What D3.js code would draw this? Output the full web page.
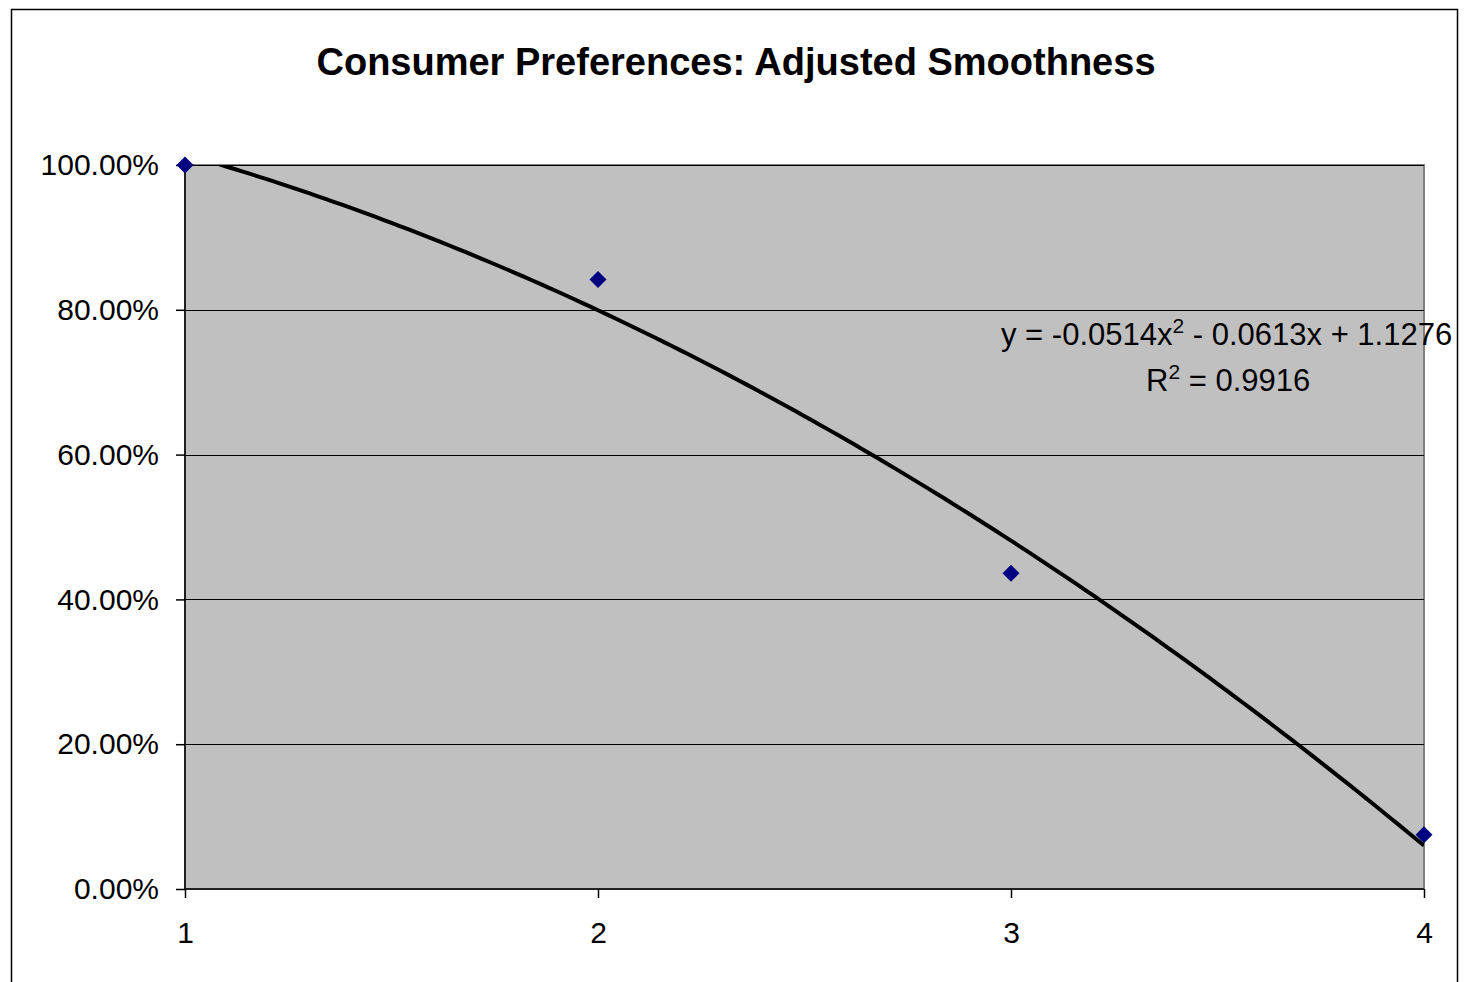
<!DOCTYPE html>
<html>
<head>
<meta charset="utf-8">
<script src="https://cdn.jsdelivr.net/npm/d3@7"></script>
<style>
  body { margin: 0; background: #fff; }
  text { font-family: "Liberation Sans", Arial, sans-serif; }
</style>
</head>
<body>
<svg id="chart" width="1477" height="982"></svg>
<script>
// data
var xs = [1, 2, 3, 4];
var shares = [1.0, 0.842, 0.436, 0.075];
var yTicks = [0, 0.2, 0.4, 0.6, 0.8, 1.0];
var xTicks = [1, 2, 3, 4];
// trendline coefficients as printed on the chart (a x^2 + b x + c)
var trendCoef = [-0.0514, -0.0613, 1.1276];
var r2 = "0.9916";

var margin = { top: 165, right: 53, bottom: 93, left: 185 },
  width = 1477 - margin.left - margin.right,
  height = 982 - margin.top - margin.bottom;

var svg = d3.select("#chart");

// outer chart border
svg.append("rect")
  .attr("x", 11.5).attr("y", 9.5)
  .attr("width", 1446).attr("height", 1000)
  .attr("fill", "none").attr("stroke", "#000").attr("stroke-width", 1.5);

svg.append("text")
  .attr("x", 736).attr("y", 75)
  .attr("text-anchor", "middle")
  .style("font-size", "38px").style("font-weight", "bold")
  .text("Consumer Preferences: Adjusted Smoothness");

var x = d3.scaleLinear().domain([1, 4]).range([0, width]);
var y = d3.scaleLinear().domain([0, 1]).range([height, 0]);

var graph = svg.append("g")
  .attr("transform", "translate(" + margin.left + "," + margin.top + ")");

graph.append("rect")
  .attr("width", width).attr("height", height)
  .attr("fill", "#c0c0c0")
  .attr("stroke", "#808080").attr("stroke-width", 2);

graph.append("clipPath").attr("id", "plotclip")
  .append("rect").attr("width", width).attr("height", height);

// gridlines
graph.append("g")
  .selectAll("line")
  .data(yTicks.slice(1))
  .enter()
  .append("line")
  .attr("x1", 0).attr("x2", width)
  .attr("y1", function (d) { return Math.round(y(d)) + 0.5; })
  .attr("y2", function (d) { return Math.round(y(d)) + 0.5; })
  .attr("stroke", "#000").attr("stroke-width", 1);

var yAxis = d3.axisLeft(y).tickValues(yTicks).tickSize(9).tickPadding(17)
  .tickFormat(d3.format(".2%"));
var xAxis = d3.axisBottom(x).tickValues(xTicks).tickSize(9).tickPadding(24)
  .tickFormat(d3.format("d"));

graph.append("g").attr("class", "axis")
  .call(yAxis)
  .call(function (g) { g.select(".domain").attr("d", "M0,0V" + height); });

graph.append("g").attr("class", "axis")
  .attr("transform", "translate(0," + height + ")")
  .call(xAxis)
  .call(function (g) { g.select(".domain").attr("d", "M0,0H" + width); });

svg.selectAll(".axis text")
  .style("font-size", "30px").style("fill", "#000")
  .style("font-family", "'Liberation Sans', Arial, sans-serif");
svg.selectAll(".axis line, .axis path").attr("stroke", "#000").attr("stroke-width", 1.5);

// trendline
var trendX = d3.range(1, 4.0001, 0.02);
var line = d3.line()
  .x(function (d) { return x(d); })
  .y(function (d) { return y(trendCoef[0] * d * d + trendCoef[1] * d + trendCoef[2]); });

graph.append("path")
  .datum(trendX)
  .attr("clip-path", "url(#plotclip)")
  .attr("d", line)
  .attr("fill", "none")
  .attr("stroke", "#000")
  .attr("stroke-width", 4);

// markers
graph.selectAll(".pt")
  .data(xs)
  .enter()
  .append("path")
  .attr("class", "pt")
  .attr("transform", function (d, i) {
    return "translate(" + x(d) + "," + y(shares[i]) + ")";
  })
  .attr("d", "M0,-8.5L8.5,0L0,8.5L-8.5,0Z")
  .attr("fill", "#000080");

// trendline label
var eq = svg.append("text")
  .attr("x", 1001).attr("y", 345)
  .style("font-size", "31px");
eq.append("tspan").text("y = -0.0514x");
eq.append("tspan").attr("dy", -12).style("font-size", "21px").text("2");
eq.append("tspan").attr("dy", 12).text(" - 0.0613x + 1.1276");

var rl = svg.append("text")
  .attr("x", 1146).attr("y", 391)
  .style("font-size", "31px");
rl.append("tspan").text("R");
rl.append("tspan").attr("dy", -12).style("font-size", "21px").text("2");
rl.append("tspan").attr("dy", 12).text(" = " + r2);
</script>
</body>
</html>
